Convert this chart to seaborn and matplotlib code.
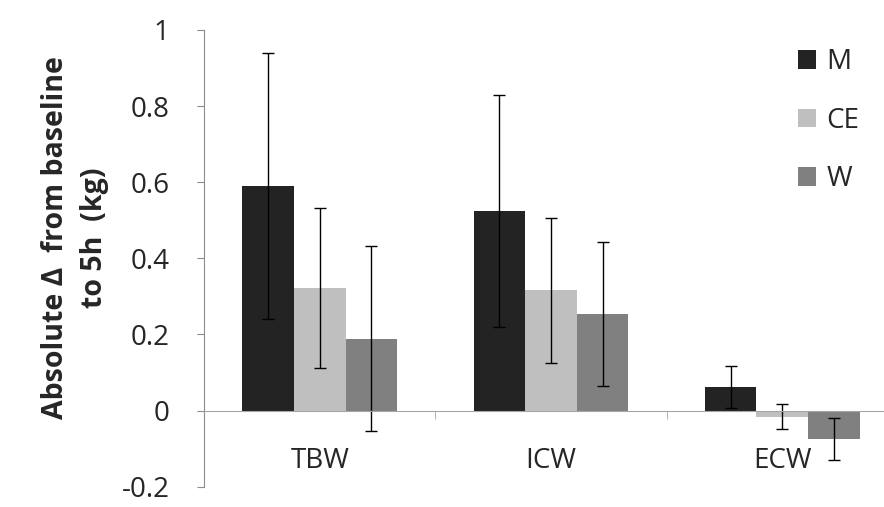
import matplotlib
matplotlib.use("Agg")
import matplotlib.pyplot as plt
import numpy as np
import pandas as pd
import seaborn as sns

compartments = ["TBW", "ICW", "ECW"]
groups = ["M", "CE", "W"]
means = {
    "M": [0.590, 0.525, 0.062],
    "CE": [0.323, 0.316, -0.016],
    "W": [0.189, 0.254, -0.074],
}
errors = {
    "M": [0.350, 0.305, 0.054],
    "CE": [0.210, 0.190, 0.032],
    "W": [0.243, 0.190, 0.055],
}
colors = ["#232323", "#bfbfbf", "#808080"]

rows = []
for g in groups:
    for c, v in zip(compartments, means[g]):
        rows.append({"compartment": c, "group": g, "value": v})
df = pd.DataFrame(rows)

sns.set_style("white")
plt.rcParams["font.family"] = ["Open Sans", "DejaVu Sans"]

fig = plt.figure(figsize=(8.84, 5.07), dpi=100)
ax = fig.add_axes([0.231, 0.040, 0.769, 0.901])

sns.barplot(data=df, x="compartment", y="value", hue="group",
            hue_order=groups, order=compartments, palette=colors,
            width=0.67, gap=0, errorbar=None, saturation=1,
            linewidth=0, ax=ax)

# error bars centred on each bar
for g, cont in zip(groups, ax.containers):
    xs = [b.get_x() + b.get_width() / 2 for b in cont]
    ax.errorbar(xs, means[g], yerr=errors[g], fmt="none", ecolor="black",
                elinewidth=1, capsize=4, capthick=1)

ax.set_ylim(-0.2, 1.0)
ax.set_xlim(-0.5, 2.44)
ax.set_yticks([-0.2, 0, 0.2, 0.4, 0.6, 0.8, 1.0])
ax.set_yticklabels(["-0.2", "0", "0.2", "0.4", "0.6", "0.8", "1"])

for s in ["top", "right"]:
    ax.spines[s].set_visible(False)
ax.spines["left"].set_color("#8c8c8c")
ax.spines["bottom"].set_position(("data", 0))
ax.spines["bottom"].set_color("#a6a6a6")

ax.tick_params(axis="y", direction="out", length=5, color="#8c8c8c",
               labelsize=20, pad=20, left=True)
ax.tick_params(axis="x", which="major", length=0, labelsize=20, pad=26)
ax.set_xticks([0.5, 1.5], minor=True)
ax.tick_params(axis="x", which="minor", direction="out", length=6,
               color="#a6a6a6", bottom=True)

ax.set_xlabel("")
ax.set_ylabel("Absolute \u0394  from baseline\nto 5h  (kg)", fontsize=20.5,
              fontweight="bold", linespacing=1.45)
ax.yaxis.set_label_coords(-0.14, 0.545)

handles, labels = ax.get_legend_handles_labels()
ax.legend(handles, labels, loc="upper right", bbox_to_anchor=(1.0, 1.015),
          frameon=False, fontsize=20, handlelength=0.65, handleheight=0.65,
          handletextpad=0.35, labelspacing=1.1)

fig.savefig("out.png", dpi=100, facecolor="white")
